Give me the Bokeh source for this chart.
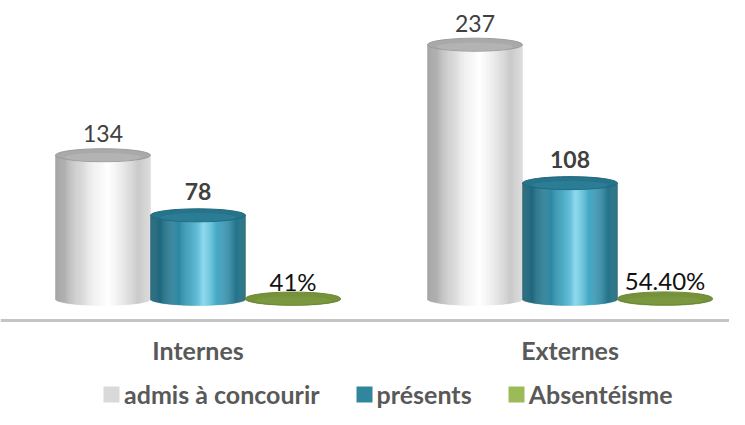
import numpy as np
from bokeh.plotting import figure
from bokeh.models import ColumnDataSource, FixedTicker, Legend, LegendItem, Range1d
from bokeh.core.properties import value
from bokeh.embed import file_html
from bokeh.resources import INLINE

# ---------------- data ----------------
categories = ["Internes", "Externes"]
series_names = ["admis à concourir", "présents", "Absentéisme"]
admis = [134, 237]
presents = [78, 108]
absenteisme = [0.41, 0.544]
absenteisme_labels = ["41%", "54.40%"]

# ---------------- layout ----------------
W, H = 729, 409
PX_PER_GROUP = 372.0
PX_PER_UNIT = 1.073
BASE_FROM_BOTTOM = H - 298.5       # value 0 position, px above figure bottom
AXIS_FROM_BOTTOM = H - 319.5       # axis line position, px above figure bottom
CENTER_PX = 197.5
CW = 95.0 / PX_PER_GROUP          # cylinder width (x data units)
B = 6.5 / PX_PER_UNIT             # ellipse half height (y data units)

x0 = -CENTER_PX / PX_PER_GROUP
x1 = x0 + W / PX_PER_GROUP
y0 = -BASE_FROM_BOTTOM / PX_PER_UNIT
y1 = y0 + H / PX_PER_UNIT
axis_y = y0 + AXIS_FROM_BOTTOM / PX_PER_UNIT

FONT = "Lato"

p = figure(width=W, height=H, x_range=Range1d(x0, x1), y_range=Range1d(y0, y1),
           output_backend="svg", toolbar_location=None, y_axis_location=None,
           min_border_left=0, min_border_right=0, min_border_top=0,
           min_border_bottom=0)
p.xgrid.visible = False
p.ygrid.visible = False
p.outline_line_color = None
p.background_fill_color = "white"
p.border_fill_color = "white"


def hex_rgb(h):
    h = h.lstrip("#")
    return np.array([int(h[i:i + 2], 16) for i in (0, 2, 4)], dtype=float)


def grad(stops, t):
    for (ta, ca), (tb, cb) in zip(stops[:-1], stops[1:]):
        if ta <= t <= tb:
            f = (t - ta) / (tb - ta) if tb > ta else 0
            c = hex_rgb(ca) * (1 - f) + hex_rgb(cb) * f
            return "#%02x%02x%02x" % tuple(int(round(v)) for v in c)
    return stops[-1][1]


N = 90
offsets = [-CW, 0.0, CW]

styles = [
    dict(stops=[(0, "#9a9a9a"), (0.15, "#bdbdbd"), (0.38, "#eeeeee"), (0.55, "#ffffff"),
                (0.7, "#ececec"), (0.86, "#c9c9c9"), (1.0, "#dadada")],
         top="#a9a9a9", top_in="#bbbbbb", rim="#9c9c9c"),
    dict(stops=[(0, "#1b5d71"), (0.18, "#25748b"), (0.42, "#3aa0bd"), (0.56, "#86d6ee"),
                (0.68, "#4cb0cc"), (0.86, "#2a7f98"), (1.0, "#1d6477")],
         top="#26738a", top_in="#2e829d", rim="#21687d"),
    dict(stops=[(0, "#66832f"), (0.5, "#86a245"), (1.0, "#66832f")],
         top="#75913a", top_in="#7f9b42", rim="#6c8834"),
]

series_vals = [admis, presents, absenteisme]

for j, (vals, st) in enumerate(zip(series_vals, styles)):
    L, R, BO, TO, C = [], [], [], [], []
    xcs = [i + offsets[j] for i in range(len(categories))]
    for xc, v in zip(xcs, vals):
        for k in range(N):
            a = k / N
            b = (k + 1) / N
            u = (a + b) - 1.0
            L.append(xc - CW / 2 + a * CW)
            R.append(xc - CW / 2 + b * CW)
            BO.append(-B * np.sqrt(max(0.0, 1 - u * u)))
            TO.append(v)
            C.append(grad(st["stops"], (a + b) / 2))
    src = ColumnDataSource(dict(left=L, right=R, bottom=BO, top=TO, color=C))
    p.quad(left="left", right="right", bottom="bottom", top="top", source=src,
           fill_color="color", line_color="color", line_width=0.4)
    tsrc = ColumnDataSource(dict(x=xcs, y=vals))
    p.ellipse(x="x", y="y", width=CW, height=2 * B, source=tsrc,
              fill_color=st["top"], line_color=st["rim"], line_width=1)
    isrc = ColumnDataSource(dict(x=xcs, y=[v - 0.3 * B for v in vals]))
    p.ellipse(x="x", y="y", width=CW * 0.8, height=1.3 * B, source=isrc,
              fill_color=st["top_in"], fill_alpha=0.6, line_color=None)

# ---------------- data labels ----------------
lab_specs = [
    ([str(v) for v in admis], admis, "normal", "#404040", -15, "23px"),
    ([str(v) for v in presents], presents, "bold", "#404040", -17, "23px"),
    (absenteisme_labels, absenteisme, "normal", "#111111", -11, "24px"),
]
for j, (texts, vals, style, color, off, size) in enumerate(lab_specs):
    xcs = [i + offsets[j] for i in range(len(categories))]
    lsrc = ColumnDataSource(dict(x=xcs, y=[v + B for v in vals], t=texts))
    p.text(x="x", y="y", text="t", source=lsrc, text_align="center",
           text_baseline="alphabetic", y_offset=off,
           text_font=value(FONT), text_font_size=size,
           text_font_style=style, text_color=color)

# ---------------- axis (drawn at a fixed data location inside the plot) ----------------
ax = p.xaxis[0]
ax.fixed_location = axis_y
ax.ticker = FixedTicker(ticks=list(range(len(categories))))
ax.major_label_overrides = {i: c for i, c in enumerate(categories)}
ax.major_tick_line_color = None
ax.minor_tick_line_color = None
ax.major_tick_out = 0
ax.minor_tick_out = 0
ax.major_tick_in = 0
ax.minor_tick_in = 0
ax.axis_line_color = "#c4c4c4"
ax.axis_line_width = 3
ax.major_label_text_font = FONT
ax.major_label_text_font_size = "25px"
ax.major_label_text_font_style = "bold"
ax.major_label_text_color = "#595959"
ax.major_label_standoff = 15

# ---------------- legend ----------------
legend_colors = ["#d9d9d9", "#31859c", "#9bbb59"]
items = []
for name, c in zip(series_names, legend_colors):
    r = p.quad(left=[np.nan], right=[np.nan], bottom=[np.nan], top=[np.nan],
               fill_color=c, line_color=None)
    items.append(LegendItem(label=name, renderers=[r]))

legend = Legend(items=items, orientation="horizontal", location=(101, 0),
                glyph_width=20, glyph_height=20, label_standoff=3, spacing=34,
                padding=0, margin=0, border_line_color=None,
                background_fill_alpha=0,
                label_text_font=FONT, label_text_font_size="25px",
                label_text_font_style="bold", label_text_color="#595959")
p.add_layout(legend, "center")

open("out.html", "w").write(file_html(p, INLINE))
